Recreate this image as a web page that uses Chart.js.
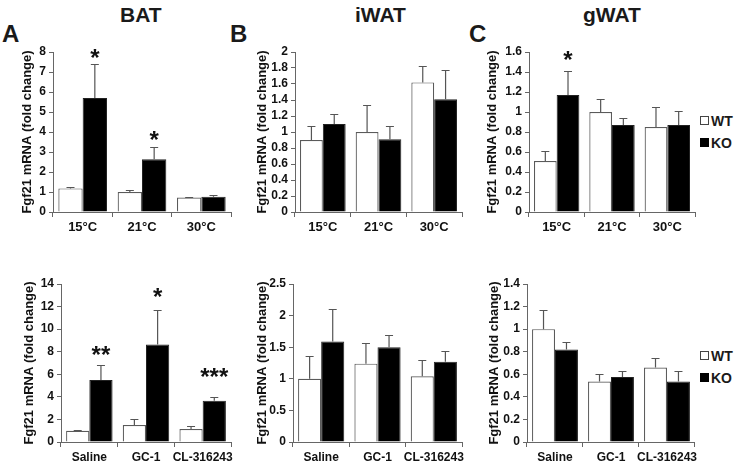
<!DOCTYPE html>
<html>
<head>
<meta charset="utf-8">
<script src="https://cdn.jsdelivr.net/npm/chart.js@4.4.1/dist/chart.umd.min.js"></script>
<style>
  body { margin: 0; background: #fff; font-family: "Liberation Sans", Arial, sans-serif; }
  #fig { position: relative; width: 738px; height: 461px; overflow: hidden; }
  #fig canvas { position: absolute; }
  .t { position: absolute; font-weight: bold; color: #1a1a1a; white-space: nowrap; line-height: 1; }
  .leg { position: absolute; font-weight: bold; font-size: 14px; line-height: 14px; color: #1a1a1a; }
  .leg span { display: inline-block; width: 7px; height: 7px; margin-right: 2px; vertical-align: 1px; }
</style>
</head>
<body>
<div id="fig">
  <div class="t" style="left:120px;top:4px;font-size:21px">BAT</div>
  <div class="t" style="left:355px;top:4px;font-size:21px">iWAT</div>
  <div class="t" style="left:583px;top:4px;font-size:21px">gWAT</div>
  <div class="t" style="left:2px;top:22px;font-size:24px">A</div>
  <div class="t" style="left:230px;top:22px;font-size:24px">B</div>
  <div class="t" style="left:469px;top:22px;font-size:24px">C</div>

  <div class="leg" style="left:700px;top:114px"><span style="border:1px solid #444;background:#fff"></span>WT</div>
  <div class="leg" style="left:700px;top:136px"><span style="border:1px solid #000;background:#000"></span>KO</div>
  <div class="leg" style="left:700px;top:349px"><span style="border:1px solid #444;background:#fff"></span>WT</div>
  <div class="leg" style="left:700px;top:371px"><span style="border:1px solid #000;background:#000"></span>KO</div>
</div>

<script>
// categories
const tempCats = ['15°C', '21°C', '30°C'];
const drugCats = ['Saline', 'GC-1', 'CL-316243'];

// top row: temperature
const batTempWT = [1.18, 1.0, 0.72];
const batTempWTErr = [0.09, 0.1, 0.04];
const batTempKO = [5.7, 2.64, 0.76];
const batTempKOErr = [1.7, 0.6, 0.09];

const iwatTempWT = [0.9, 1.0, 1.62];
const iwatTempWTErr = [0.18, 0.34, 0.21];
const iwatTempKO = [1.1, 0.91, 1.41];
const iwatTempKOErr = [0.13, 0.17, 0.36];

const gwatTempWT = [0.51, 1.0, 0.85];
const gwatTempWTErr = [0.1, 0.13, 0.2];
const gwatTempKO = [1.17, 0.87, 0.87];
const gwatTempKOErr = [0.24, 0.07, 0.14];

// bottom row: drugs
const batDrugWT = [1.0, 1.5, 1.15];
const batDrugWTErr = [0.08, 0.55, 0.3];
const batDrugKO = [5.5, 8.65, 3.65];
const batDrugKOErr = [1.3, 3.05, 0.33];

const iwatDrugWT = [1.0, 1.24, 1.04];
const iwatDrugWTErr = [0.36, 0.32, 0.25];
const iwatDrugKO = [1.59, 1.5, 1.27];
const iwatDrugKOErr = [0.51, 0.19, 0.17];

const gwatDrugWT = [1.0, 0.535, 0.66];
const gwatDrugWTErr = [0.17, 0.07, 0.08];
const gwatDrugKO = [0.82, 0.575, 0.535];
const gwatDrugKOErr = [0.07, 0.05, 0.09];

// significance marks over KO bars (and where they sit, in axis units)
const batTempStars = ['*', '*', ''];
const batTempStarY = [7.95, 3.85, 0];
const gwatTempStars = ['*', '', ''];
const gwatTempStarY = [1.57, 0, 0];
const batDrugStars = ['**', '*', '***'];
const batDrugStarY = [8.15, 13.3, 6.2];
const noStars = ['', '', ''];

// y axis: max / step per panel
const yAxisTop = [[8, 1], [2, 0.2], [1.6, 0.2]];
const yAxisBottom = [[14, 2], [2.5, 0.5], [1.4, 0.2]];

Chart.defaults.font.family = '"Liberation Sans", Arial, sans-serif';

const YW = 52, PT = 12, RP = 6;

const errPlugin = {
  id: 'errbars',
  afterDatasetsDraw(chart, args, opts) {
    const ctx = chart.ctx, y = chart.scales.y;
    ctx.save();
    ctx.strokeStyle = '#555';
    ctx.lineWidth = 1.2;
    opts.errs.forEach((errs, di) => {
      const meta = chart.getDatasetMeta(di);
      meta.data.forEach((bar, i) => {
        const v = chart.data.datasets[di].data[i];
        const yTop = Math.round(y.getPixelForValue(v + errs[i])) + 0.5;
        ctx.beginPath();
        ctx.moveTo(bar.x, bar.y);
        ctx.lineTo(bar.x, yTop);
        ctx.moveTo(bar.x - 4, yTop);
        ctx.lineTo(bar.x + 4, yTop);
        ctx.stroke();
      });
    });
    ctx.fillStyle = '#111';
    ctx.font = 'bold 24px "Liberation Sans", Arial, sans-serif';
    ctx.textAlign = 'center';
    ctx.textBaseline = 'alphabetic';
    const ko = chart.getDatasetMeta(1);
    opts.stars.forEach((s, i) => {
      if (!s) return;
      ctx.fillText(s, ko.data[i].x, y.getPixelForValue(opts.starY[i]) + 13);
    });
    ctx.restore();
  }
};

function panel(box, cats, wt, wtErr, ko, koErr, yAx, stars, starY, xFont, titlePad, xh) {
  const [L, R, T, B] = box;
  const c = document.createElement('canvas');
  c.width = YW + (R - L) + RP;
  c.height = PT + (B - T) + xh;
  c.style.left = (L - YW) + 'px';
  c.style.top = (T - PT) + 'px';
  document.getElementById('fig').appendChild(c);

  new Chart(c.getContext('2d'), {
    type: 'bar',
    data: {
      labels: cats,
      datasets: [
        { label: 'WT', data: wt, backgroundColor: '#fff', borderColor: '#5a5a5a', borderWidth: 1.2,
          categoryPercentage: 0.82, barPercentage: 1.0 },
        { label: 'KO', data: ko, backgroundColor: '#000', borderColor: '#222', borderWidth: 1,
          categoryPercentage: 0.82, barPercentage: 1.0 }
      ]
    },
    options: {
      responsive: false,
      animation: false,
      layout: { padding: { left: 0, right: RP, top: PT, bottom: 0 } },
      plugins: {
        legend: { display: false },
        tooltip: { enabled: false },
        errbars: { errs: [wtErr, koErr], stars: stars, starY: starY }
      },
      scales: {
        x: {
          offset: true,
          grid: { offset: true, drawOnChartArea: false, tickLength: 5, color: '#666' },
          border: { color: '#666', width: 1 },
          ticks: { color: '#111', font: { size: xFont, weight: 'bold' }, padding: 3, maxRotation: 0, autoSkip: false },
          afterFit: s => { s.height = xh; }
        },
        y: {
          min: 0,
          max: yAx[0],
          ticks: {
            stepSize: yAx[1], autoSkip: false, color: '#111', padding: 3,
            font: { size: 12, weight: 'bold' },
            callback: v => String(+v.toFixed(2))
          },
          grid: { drawOnChartArea: false, tickLength: 4, color: '#666' },
          border: { color: '#666', width: 1 },
          title: {
            display: true, text: 'Fgf21 mRNA (fold change)', color: '#111',
            font: { size: 13, weight: 'bold' }, padding: { top: titlePad, bottom: 0 }
          },
          afterFit: s => { s.width = YW; }
        }
      }
    },
    plugins: [errPlugin]
  });
}

panel([53, 231, 52, 212], tempCats, batTempWT, batTempWTErr, batTempKO, batTempKOErr,
      yAxisTop[0], batTempStars, batTempStarY, 13, 19, 30);
panel([295, 462, 52, 212], tempCats, iwatTempWT, iwatTempWTErr, iwatTempKO, iwatTempKOErr,
      yAxisTop[1], noStars, [0, 0, 0], 13, 12, 30);
panel([529, 695, 52, 212], tempCats, gwatTempWT, gwatTempWTErr, gwatTempKO, gwatTempKOErr,
      yAxisTop[2], gwatTempStars, gwatTempStarY, 13, 8, 30);

panel([61, 231, 284, 442], drugCats, batDrugWT, batDrugWTErr, batDrugKO, batDrugKOErr,
      yAxisBottom[0], batDrugStars, batDrugStarY, 12, 13, 24);
panel([293, 462, 284, 442], drugCats, iwatDrugWT, iwatDrugWTErr, iwatDrugKO, iwatDrugKOErr,
      yAxisBottom[1], noStars, [0, 0, 0], 12, 14, 24);
panel([527, 695, 284, 442], drugCats, gwatDrugWT, gwatDrugWTErr, gwatDrugKO, gwatDrugKOErr,
      yAxisBottom[2], noStars, [0, 0, 0], 12, 12, 24);
</script>
</body>
</html>
